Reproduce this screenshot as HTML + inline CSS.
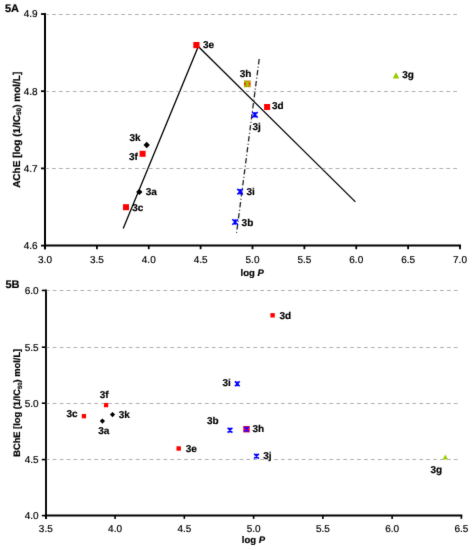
<!DOCTYPE html>
<html><head><meta charset="utf-8"><style>
html,body{margin:0;padding:0;background:#fff;}
body{width:473px;height:550px;overflow:hidden;}
svg{display:block;font-family:"Liberation Sans", sans-serif;text-rendering:geometricPrecision;filter:blur(0.3px);}
text{stroke:#000;stroke-width:0.2px;}
</style></head><body>
<svg width="473" height="550" viewBox="0 0 473 550">
<defs><filter id="soft" x="-2%" y="-2%" width="104%" height="104%"><feConvolveMatrix order="3" kernelMatrix="0.010000000000000002 0.1 0.010000000000000002 0.1 1 0.1 0.010000000000000002 0.1 0.010000000000000002" divisor="1.44" edgeMode="duplicate" preserveAlpha="false"/></filter></defs>
<rect width="473" height="550" fill="#fff"/>
<g filter="url(#soft)">
<line x1="45.1" y1="14.50" x2="457.2" y2="14.50" stroke="#b0b0b0" stroke-width="1" stroke-dasharray="3.8 3.117"/>
<line x1="45.1" y1="91.50" x2="457.2" y2="91.50" stroke="#b0b0b0" stroke-width="1" stroke-dasharray="3.8 3.117"/>
<line x1="45.1" y1="168.50" x2="457.2" y2="168.50" stroke="#b0b0b0" stroke-width="1" stroke-dasharray="3.8 3.117"/>
<line x1="45.0" y1="13.1" x2="45.0" y2="249.2" stroke="#000" stroke-width="2"/>
<line x1="44.0" y1="245.6" x2="461.0" y2="245.6" stroke="#000" stroke-width="2"/>
<line x1="41" y1="14.00" x2="45.0" y2="14.00" stroke="#000" stroke-width="1.8"/>
<text x="37.6" y="17.4" font-size="10" text-anchor="end" >4.9</text>
<line x1="41" y1="91.20" x2="45.0" y2="91.20" stroke="#000" stroke-width="1.8"/>
<text x="37.6" y="94.60000000000042" font-size="10" text-anchor="end" >4.8</text>
<line x1="41" y1="168.40" x2="45.0" y2="168.40" stroke="#000" stroke-width="1.8"/>
<text x="37.6" y="171.80000000000015" font-size="10" text-anchor="end" >4.7</text>
<line x1="41" y1="245.60" x2="45.0" y2="245.60" stroke="#000" stroke-width="1.8"/>
<text x="37.6" y="249.00000000000057" font-size="10" text-anchor="end" >4.6</text>
<line x1="45.00" y1="245.6" x2="45.00" y2="249.2" stroke="#000" stroke-width="1.8"/>
<text x="45.00" y="263.0" font-size="10" text-anchor="middle" >3.0</text>
<line x1="96.88" y1="245.6" x2="96.88" y2="249.2" stroke="#000" stroke-width="1.8"/>
<text x="96.88" y="263.0" font-size="10" text-anchor="middle" >3.5</text>
<line x1="148.75" y1="245.6" x2="148.75" y2="249.2" stroke="#000" stroke-width="1.8"/>
<text x="148.75" y="263.0" font-size="10" text-anchor="middle" >4.0</text>
<line x1="200.62" y1="245.6" x2="200.62" y2="249.2" stroke="#000" stroke-width="1.8"/>
<text x="200.62" y="263.0" font-size="10" text-anchor="middle" >4.5</text>
<line x1="252.50" y1="245.6" x2="252.50" y2="249.2" stroke="#000" stroke-width="1.8"/>
<text x="252.50" y="263.0" font-size="10" text-anchor="middle" >5.0</text>
<line x1="304.38" y1="245.6" x2="304.38" y2="249.2" stroke="#000" stroke-width="1.8"/>
<text x="304.38" y="263.0" font-size="10" text-anchor="middle" >5.5</text>
<line x1="356.25" y1="245.6" x2="356.25" y2="249.2" stroke="#000" stroke-width="1.8"/>
<text x="356.25" y="263.0" font-size="10" text-anchor="middle" >6.0</text>
<line x1="408.12" y1="245.6" x2="408.12" y2="249.2" stroke="#000" stroke-width="1.8"/>
<text x="408.12" y="263.0" font-size="10" text-anchor="middle" >6.5</text>
<line x1="460.00" y1="245.6" x2="460.00" y2="249.2" stroke="#000" stroke-width="1.8"/>
<text x="460.00" y="263.0" font-size="10" text-anchor="middle" >7.0</text>
<path d="M123.2 228.5L198.3 46.5L355.4 201.9" stroke="#000" stroke-width="1.3" fill="none"/>
<path d="M259.2 59L236.3 235" stroke="#222" stroke-width="1.3" fill="none" stroke-dasharray="5.4 2.35 1 2.35"/>
<rect x="193.30" y="42.00" width="6.2" height="6.2" fill="#ff0000"/>
<rect x="264.10" y="104.00" width="6.0" height="6.0" fill="#ff0000"/>
<rect x="139.60" y="150.80" width="6.0" height="6.0" fill="#ff0000"/>
<rect x="123.00" y="204.20" width="6.0" height="6.0" fill="#ff0000"/>
<rect x="244.10" y="80.70" width="6.4" height="6.4" fill="#ff0000"/>
<path d="M244.20000000000002 80.80000000000001L250.4 87.0M250.4 80.80000000000001L244.20000000000002 87.0M247.3 80.80000000000001L247.3 87.0" stroke="#99cc00" stroke-width="1.5" fill="none"/>
<path d="M146.7 141.8L149.89999999999998 145.0L146.7 148.2L143.5 145.0Z" fill="#000"/>
<path d="M139.3 188.70000000000002L142.5 191.9L139.3 195.1L136.10000000000002 191.9Z" fill="#000"/>
<path d="M252.1 112.0L257.7 117.6M257.7 112.0L252.1 117.6M254.9 112.0L254.9 117.6" stroke="#0000ff" stroke-width="1.6" fill="none"/>
<path d="M237.29999999999998 188.89999999999998L242.9 194.5M242.9 188.89999999999998L237.29999999999998 194.5M240.1 188.89999999999998L240.1 194.5" stroke="#0000ff" stroke-width="1.6" fill="none"/>
<path d="M232.29999999999998 219.2L237.9 224.8M237.9 219.2L232.29999999999998 224.8M235.1 219.2L235.1 224.8" stroke="#0000ff" stroke-width="1.6" fill="none"/>
<path d="M396.0 72.2L399.3 78.39999999999999L392.7 78.39999999999999Z" fill="#99cc00"/>
<text x="203.0" y="48.4" font-size="10" font-weight="bold" text-anchor="start" >3e</text>
<text x="239.8" y="76.8" font-size="10" font-weight="bold" text-anchor="start" >3h</text>
<text x="402.3" y="78.0" font-size="10" font-weight="bold" text-anchor="start" >3g</text>
<text x="271.9" y="109.0" font-size="10" font-weight="bold" text-anchor="start" >3d</text>
<text x="252.4" y="129.8" font-size="10" font-weight="bold" text-anchor="start" >3j</text>
<text x="129.5" y="141.2" font-size="10" font-weight="bold" text-anchor="start" >3k</text>
<text x="129.0" y="159.8" font-size="10" font-weight="bold" text-anchor="start" >3f</text>
<text x="145.7" y="195.2" font-size="10" font-weight="bold" text-anchor="start" >3a</text>
<text x="132.2" y="210.6" font-size="10" font-weight="bold" text-anchor="start" >3c</text>
<text x="246.5" y="194.6" font-size="10" font-weight="bold" text-anchor="start" >3i</text>
<text x="241.6" y="225.9" font-size="10" font-weight="bold" text-anchor="start" >3b</text>
<text x="5.0" y="11.6" font-size="11" font-weight="bold" text-anchor="start" >5A</text>
<text transform="translate(19.6 129.8) rotate(-90)" font-size="10" font-weight="bold" text-anchor="middle">AChE [log (1/IC<tspan font-size="6.5" dy="1.8">50</tspan><tspan dy="-1.8">) mol/L]</tspan></text>
<text x="252.2" y="276" font-size="9.5" font-weight="bold" text-anchor="middle">log <tspan font-style="italic">P</tspan></text>
<line x1="45.8" y1="290.50" x2="458.5" y2="290.50" stroke="#b0b0b0" stroke-width="1" stroke-dasharray="3.8 3.117"/>
<line x1="45.8" y1="347.50" x2="458.5" y2="347.50" stroke="#b0b0b0" stroke-width="1" stroke-dasharray="3.8 3.117"/>
<line x1="45.8" y1="403.50" x2="458.5" y2="403.50" stroke="#b0b0b0" stroke-width="1" stroke-dasharray="3.8 3.117"/>
<line x1="45.8" y1="459.50" x2="458.5" y2="459.50" stroke="#b0b0b0" stroke-width="1" stroke-dasharray="3.8 3.117"/>
<line x1="46" y1="289.6" x2="46" y2="518.9" stroke="#000" stroke-width="1.9"/>
<line x1="44.8" y1="515.5" x2="462.29999999999995" y2="515.5" stroke="#000" stroke-width="1.8"/>
<line x1="41.8" y1="290.45" x2="45.8" y2="290.45" stroke="#000" stroke-width="1.6"/>
<text x="38.6" y="293.75" font-size="10" text-anchor="end" >6.0</text>
<line x1="41.8" y1="347.20" x2="45.8" y2="347.20" stroke="#000" stroke-width="1.6"/>
<text x="38.6" y="350.5" font-size="10" text-anchor="end" >5.5</text>
<line x1="41.8" y1="403.20" x2="45.8" y2="403.20" stroke="#000" stroke-width="1.6"/>
<text x="38.6" y="406.5" font-size="10" text-anchor="end" >5.0</text>
<line x1="41.8" y1="459.60" x2="45.8" y2="459.60" stroke="#000" stroke-width="1.6"/>
<text x="38.6" y="462.90000000000003" font-size="10" text-anchor="end" >4.5</text>
<line x1="41.8" y1="515.60" x2="45.8" y2="515.60" stroke="#000" stroke-width="1.6"/>
<text x="38.6" y="518.9" font-size="10" text-anchor="end" >4.0</text>
<line x1="45.80" y1="515.5" x2="45.80" y2="518.9" stroke="#000" stroke-width="1.6"/>
<text x="45.80" y="532.0" font-size="10" text-anchor="middle" >3.5</text>
<line x1="115.07" y1="515.5" x2="115.07" y2="518.9" stroke="#000" stroke-width="1.6"/>
<text x="115.07" y="532.0" font-size="10" text-anchor="middle" >4.0</text>
<line x1="184.33" y1="515.5" x2="184.33" y2="518.9" stroke="#000" stroke-width="1.6"/>
<text x="184.33" y="532.0" font-size="10" text-anchor="middle" >4.5</text>
<line x1="253.60" y1="515.5" x2="253.60" y2="518.9" stroke="#000" stroke-width="1.6"/>
<text x="253.60" y="532.0" font-size="10" text-anchor="middle" >5.0</text>
<line x1="322.87" y1="515.5" x2="322.87" y2="518.9" stroke="#000" stroke-width="1.6"/>
<text x="322.87" y="532.0" font-size="10" text-anchor="middle" >5.5</text>
<line x1="392.13" y1="515.5" x2="392.13" y2="518.9" stroke="#000" stroke-width="1.6"/>
<text x="392.13" y="532.0" font-size="10" text-anchor="middle" >6.0</text>
<line x1="461.40" y1="515.5" x2="461.40" y2="518.9" stroke="#000" stroke-width="1.6"/>
<text x="461.40" y="532.0" font-size="10" text-anchor="middle" >6.5</text>
<rect x="270.40" y="313.10" width="4.4" height="4.4" fill="#ff0000"/>
<rect x="103.95" y="402.95" width="4.3" height="4.3" fill="#ff0000"/>
<rect x="81.75" y="414.05" width="4.3" height="4.3" fill="#ff0000"/>
<rect x="176.50" y="446.30" width="4.4" height="4.4" fill="#ff0000"/>
<path d="M112.5 412.0L115.1 414.6L112.5 417.20000000000005L109.9 414.6Z" fill="#000"/>
<path d="M102.4 418.5L105.0 421.1L102.4 423.70000000000005L99.80000000000001 421.1Z" fill="#000"/>
<path d="M234.9 381.40000000000003L239.70000000000002 386.2M239.70000000000002 381.40000000000003L234.9 386.2M237.3 381.40000000000003L237.3 386.2" stroke="#0000ff" stroke-width="1.6" fill="none"/>
<path d="M227.6 427.8L232.4 432.59999999999997M232.4 427.8L227.6 432.59999999999997M230.0 427.8L230.0 432.59999999999997" stroke="#0000ff" stroke-width="1.6" fill="none"/>
<path d="M254.1 453.8L258.9 458.59999999999997M258.9 453.8L254.1 458.59999999999997M256.5 453.8L256.5 458.59999999999997" stroke="#0000ff" stroke-width="1.6" fill="none"/>
<rect x="243.30" y="426.00" width="6.4" height="6.4" fill="#ff0000"/>
<path d="M244.1 426.8L248.9 431.59999999999997M248.9 426.8L244.1 431.59999999999997M246.5 426.8L246.5 431.59999999999997" stroke="#0000ff" stroke-width="1.6" fill="none"/>
<path d="M445.3 454.6L448.0 459.6L442.6 459.6Z" fill="#99cc00"/>
<text x="279.4" y="318.7" font-size="10" font-weight="bold" text-anchor="start" >3d</text>
<text x="222.5" y="385.6" font-size="10" font-weight="bold" text-anchor="start" >3i</text>
<text x="99.7" y="397.6" font-size="10" font-weight="bold" text-anchor="start" >3f</text>
<text x="66.5" y="416.8" font-size="10" font-weight="bold" text-anchor="start" >3c</text>
<text x="118.7" y="417.6" font-size="10" font-weight="bold" text-anchor="start" >3k</text>
<text x="98.3" y="433.8" font-size="10" font-weight="bold" text-anchor="start" >3a</text>
<text x="207.0" y="424.4" font-size="10" font-weight="bold" text-anchor="start" >3b</text>
<text x="252.5" y="432.1" font-size="10" font-weight="bold" text-anchor="start" >3h</text>
<text x="185.7" y="451.9" font-size="10" font-weight="bold" text-anchor="start" >3e</text>
<text x="263.2" y="458.6" font-size="10" font-weight="bold" text-anchor="start" >3j</text>
<text x="430.5" y="472.8" font-size="10" font-weight="bold" text-anchor="start" >3g</text>
<text x="5.5" y="287.7" font-size="11" font-weight="bold" text-anchor="start" >5B</text>
<text transform="translate(20.2 402.8) rotate(-90)" font-size="9.3" font-weight="bold" text-anchor="middle">BChE [log (1/IC<tspan font-size="6" dy="1.7">50</tspan><tspan dy="-1.7">) mol/L]</tspan></text>
<text x="253.4" y="543.4" font-size="9.5" font-weight="bold" text-anchor="middle">log <tspan font-style="italic">P</tspan></text>
</g>
</svg>
</body></html>
